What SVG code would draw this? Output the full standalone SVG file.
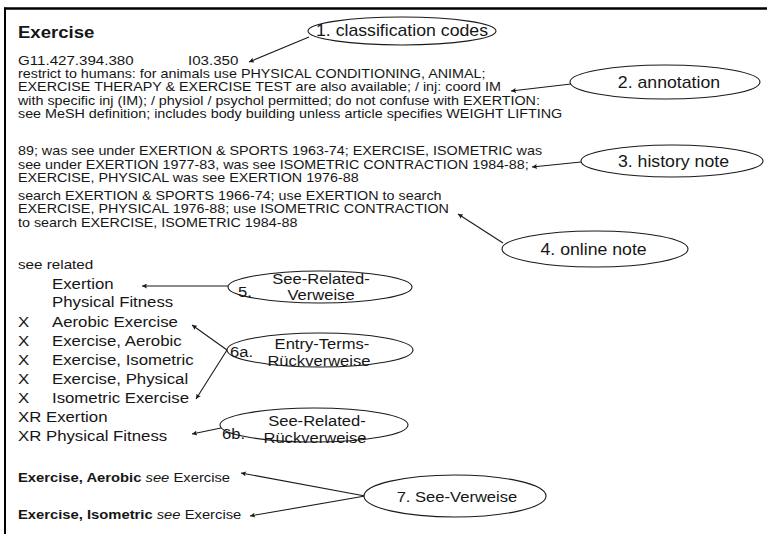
<svg xmlns="http://www.w3.org/2000/svg" width="768" height="534" viewBox="0 0 768 534">
  <style>
    text { font-family: "Liberation Sans", Arial, sans-serif; fill: #161616; }
    .title { font-size: 16.6px; font-weight: bold; }
    .code { font-size: 13.5px; }
    .body { font-size: 12.8px; }
    .sr { font-size: 13.6px; }
    .list { font-size: 15px; }
    .see { font-size: 13.2px; }
    .lbl { font-size: 15.8px; text-anchor: middle; }
    .lbs { font-size: 14.8px; }
    .mid { text-anchor: middle; }
    .bubble { fill: #fff; stroke: #1a1a1a; stroke-width: 1.1; }
    .conn { stroke: #1a1a1a; stroke-width: 1.1; fill: none; marker-end: url(#tip); }
    .frame { stroke: #000; fill: none; }
  </style>
  <defs>
    <marker id="tip" viewBox="0 0 10 10" refX="10" refY="5" markerWidth="7" markerHeight="5" markerUnits="userSpaceOnUse" orient="auto">
      <path d="M0,0 L10,5 L0,10 L2,5 z" fill="#1a1a1a"/>
    </marker>
  </defs>

  <rect width="768" height="534" fill="#fff"/>

  <!-- frame: top rule and left rule only -->
  <line class="frame" x1="4" y1="8.5" x2="767" y2="8.5" stroke-width="2.5"/>
  <line class="frame" x1="5" y1="7.5" x2="5" y2="534" stroke-width="2"/>

  <!-- record text (glyphs slightly widened horizontally) -->
  <g id="record" transform="scale(1.12 1)">
    <text class="title" x="16.07" y="38">Exercise</text>
    <text class="code" x="16.07" y="65">G11.427.394.380</text>
    <text class="code" x="167.86" y="65">I03.350</text>

    <text class="body" x="16.07" y="78">restrict to humans: for animals use PHYSICAL CONDITIONING, ANIMAL;</text>
    <text class="body" x="16.07" y="91.5">EXERCISE THERAPY &amp; EXERCISE TEST are also available; / inj: coord IM</text>
    <text class="body" x="16.07" y="105">with specific inj (IM); / physiol / psychol permitted; do not confuse with EXERTION:</text>
    <text class="body" x="16.07" y="118.5">see MeSH definition; includes body building unless article specifies WEIGHT LIFTING</text>

    <text class="body" x="16.07" y="155.5">89; was see under EXERTION &amp; SPORTS 1963-74; EXERCISE, ISOMETRIC was</text>
    <text class="body" x="16.07" y="169">see under EXERTION 1977-83, was see ISOMETRIC CONTRACTION 1984-88;</text>
    <text class="body" x="16.07" y="182.5">EXERCISE, PHYSICAL was see EXERTION 1976-88</text>

    <text class="body" x="16.07" y="200">search EXERTION &amp; SPORTS 1966-74; use EXERTION to search</text>
    <text class="body" x="16.07" y="213.5">EXERCISE, PHYSICAL 1976-88; use ISOMETRIC CONTRACTION</text>
    <text class="body" x="16.07" y="227">to search EXERCISE, ISOMETRIC 1984-88</text>

    <text class="sr" x="16.07" y="269">see related</text>
    <text class="list" x="46.43" y="289">Exertion</text>
    <text class="list" x="46.43" y="307">Physical Fitness</text>
    <text class="list" x="16.07" y="327">X</text>
    <text class="list" x="46.43" y="327">Aerobic Exercise</text>
    <text class="list" x="16.07" y="346">X</text>
    <text class="list" x="46.43" y="346">Exercise, Aerobic</text>
    <text class="list" x="16.07" y="365">X</text>
    <text class="list" x="46.43" y="365">Exercise, Isometric</text>
    <text class="list" x="16.07" y="384">X</text>
    <text class="list" x="46.43" y="384">Exercise, Physical</text>
    <text class="list" x="16.07" y="403">X</text>
    <text class="list" x="46.43" y="403">Isometric Exercise</text>
    <text class="list" x="16.07" y="422">XR Exertion</text>
    <text class="list" x="16.07" y="441">XR Physical Fitness</text>

    <text class="see" x="16.07" y="482"><tspan font-weight="bold">Exercise, Aerobic</tspan> <tspan font-style="italic">see</tspan> Exercise</text>
    <text class="see" x="16.07" y="519"><tspan font-weight="bold">Exercise, Isometric</tspan> <tspan font-style="italic">see</tspan> Exercise</text>
  </g>

  <!-- connectors -->
  <g id="connectors">
    <line class="conn" x1="309" y1="37" x2="249" y2="62"/>
    <line class="conn" x1="571" y1="84" x2="511" y2="91"/>
    <line class="conn" x1="581" y1="162" x2="532" y2="167"/>
    <line class="conn" x1="503" y1="243" x2="458" y2="214"/>
    <line class="conn" x1="228" y1="286" x2="142" y2="286"/>
    <line class="conn" x1="227" y1="350" x2="192" y2="325"/>
    <line class="conn" x1="227" y1="350" x2="196" y2="399"/>
    <line class="conn" x1="221" y1="428" x2="192" y2="434"/>
    <line class="conn" x1="365" y1="496" x2="241" y2="473"/>
    <line class="conn" x1="365" y1="496" x2="250" y2="516"/>
  </g>

  <!-- callout bubbles -->
  <g id="n1">
    <ellipse class="bubble" cx="402" cy="31" rx="94" ry="14"/>
    <text class="lbl" x="358.93" y="36.5" transform="scale(1.12 1)">1. classification codes</text>
  </g>
  <g id="n2">
    <ellipse class="bubble" cx="665" cy="82" rx="95" ry="17"/>
    <text class="lbl" x="597.3" y="88" transform="scale(1.12 1)">2. annotation</text>
  </g>
  <g id="n3">
    <ellipse class="bubble" cx="672" cy="161" rx="91" ry="16"/>
    <text class="lbl" x="601.3" y="167" transform="scale(1.12 1)">3. history note</text>
  </g>
  <g id="n4">
    <ellipse class="bubble" cx="595" cy="249" rx="93" ry="18"/>
    <text class="lbl" x="530" y="255" transform="scale(1.12 1)">4. online note</text>
  </g>
  <g id="n5">
    <ellipse class="bubble" cx="320" cy="287" rx="92" ry="16"/>
    <g transform="scale(1.12 1)">
      <text class="lbs" x="212.5" y="297">5.</text>
      <text class="lbs mid" x="286.6" y="284">See-Related-</text>
      <text class="lbs mid" x="286.6" y="300">Verweise</text>
    </g>
  </g>
  <g id="n6a">
    <ellipse class="bubble" cx="320" cy="350" rx="93" ry="17"/>
    <g transform="scale(1.12 1)">
      <text class="lbs" x="205.4" y="357">6a.</text>
      <text class="lbs mid" x="287.5" y="349">Entry-Terms-</text>
      <text class="lbs mid" x="284.8" y="366">Rückverweise</text>
    </g>
  </g>
  <g id="n6b">
    <ellipse class="bubble" cx="314" cy="425" rx="94" ry="17"/>
    <g transform="scale(1.12 1)">
      <text class="lbs" x="198.2" y="439">6b.</text>
      <text class="lbs mid" x="283" y="426">See-Related-</text>
      <text class="lbs mid" x="281.25" y="443">Rückverweise</text>
    </g>
  </g>
  <g id="n7">
    <ellipse class="bubble" cx="455" cy="496" rx="91" ry="21"/>
    <text class="lbs mid" x="408" y="502" transform="scale(1.12 1)">7. See-Verweise</text>
  </g>
</svg>
